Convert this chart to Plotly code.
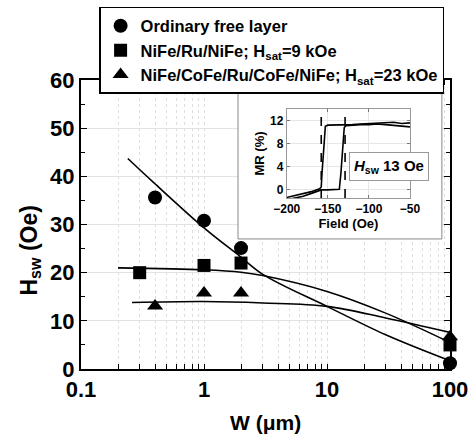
import plotly.graph_objects as go

# ---- main data (W in um, Hsw in Oe) ----
W_circle = [0.4, 1, 2, 100]
H_circle = [35.6, 30.8, 25.1, 1.2]
W_square = [0.3, 1, 2, 100]
H_square = [20.0, 21.5, 22.0, 5.0]
W_tri = [0.4, 1, 2, 100]
H_tri = [13.1, 15.8, 15.8, 6.7]

# fitted curves
fit_circle_W = [0.24, 0.39, 1, 1.96, 3.03, 10, 30, 100]
fit_circle_H = [43.7, 38.7, 29.3, 23.4, 19.6, 13.0, 7.1, 1.7]
fit_square_W = [0.2, 1, 2, 3, 10, 30, 100]
fit_square_H = [21.0, 20.6, 20.1, 19.4, 16.1, 11.6, 5.5]
fit_tri_W = [0.26, 1, 3, 10, 30, 100]
fit_tri_H = [13.8, 14.0, 13.7, 13.0, 10.6, 7.6]

x_tickvals = [0.1, 0.2, 0.3, 0.4, 0.5, 0.6, 0.7, 0.8, 0.9,
              1, 2, 3, 4, 5, 6, 7, 8, 9,
              10, 20, 30, 40, 50, 60, 70, 80, 90, 100]
x_ticklabels = {0.1: "0.1", 1: "1", 10: "10", 100: "100"}

# ---- inset data (MR loop) ----
loopA_field = [-200, -190, -180, -170, -160, -158, -157, -155, -153, -150,
               -140, -130, -120, -110, -100, -90, -80, -70, -60, -50]
loopA_mr = [-1.3, -1.0, -0.7, -0.3, 0.2, 0.5, 3.0, 8.0, 11.0, 11.2,
            11.2, 11.3, 11.3, 11.4, 11.5, 11.6, 11.6, 11.7, 11.5, 11.6]
loopB_field = [-200, -190, -180, -170, -160, -158, -150, -140, -136, -134,
               -132, -130, -128, -120, -110, -100, -90, -80, -70, -60, -50]
loopB_mr = [-1.7, -1.4, -1.1, -0.6, -0.2, 0.0, 0.0, 0.0, 0.1, 3.0,
            8.0, 10.8, 11.1, 11.2, 11.3, 11.3, 11.4, 11.3, 11.2, 11.0, 10.9]
hsw_fields = [-158, -129]

FONT = "Liberation Sans, Arial, sans-serif"
XRANGE_LOG = [-1, 2]
YRANGE = [0, 60]


def frac_to_x(f):
    return 10 ** (XRANGE_LOG[0] + f * (XRANGE_LOG[1] - XRANGE_LOG[0]))


def frac_to_y(f):
    return YRANGE[0] + f * (YRANGE[1] - YRANGE[0])


fig = go.Figure()

msize = 14
for fw, fh in [(fit_circle_W, fit_circle_H), (fit_square_W, fit_square_H), (fit_tri_W, fit_tri_H)]:
    fig.add_trace(go.Scatter(x=fw, y=fh, mode="lines",
                             line=dict(color="black", width=1.6, shape="spline"), showlegend=False))

fig.add_trace(go.Scatter(x=W_circle, y=H_circle, mode="markers", name="Ordinary free layer",
                         marker=dict(symbol="circle", size=msize, color="black"), cliponaxis=False))
fig.add_trace(go.Scatter(x=W_square, y=H_square, mode="markers", name="NiFe/Ru/NiFe; H<sub>sat</sub>=9 kOe",
                         marker=dict(symbol="square", size=msize - 1, color="black"), cliponaxis=False))
fig.add_trace(go.Scatter(x=W_tri, y=H_tri, mode="markers", name="NiFe/CoFe/Ru/CoFe/NiFe; H<sub>sat</sub>=23 kOe",
                         marker=dict(symbol="triangle-up", size=msize, color="black"), cliponaxis=False))

# inset traces
fig.add_trace(go.Scatter(x=loopA_field, y=loopA_mr, mode="lines", line=dict(color="black", width=1.6),
                         xaxis="x2", yaxis="y2", showlegend=False))
fig.add_trace(go.Scatter(x=loopB_field, y=loopB_mr, mode="lines", line=dict(color="black", width=1.6),
                         xaxis="x2", yaxis="y2", showlegend=False))

shapes = [
    dict(type="rect", xref="x", yref="y",
         x0=frac_to_x(0.4255), x1=frac_to_x(0.978), y0=frac_to_y(0.45), y1=frac_to_y(0.969),
         line=dict(color="#888888", width=1), fillcolor="white", layer="between"),
]
for f in hsw_fields:
    shapes.append(dict(type="line", xref="x2", yref="y2 domain", x0=f, x1=f, y0=0, y1=1,
                       line=dict(color="black", width=1.6, dash="dash"), layer="above"))

fig.update_layout(
    width=469, height=440,
    margin=dict(l=81, r=19, t=80, b=71, autoexpand=False),
    paper_bgcolor="white", plot_bgcolor="white",
    font=dict(family=FONT, color="black", weight="bold"),
    shapes=shapes,
    xaxis=dict(type="log", range=XRANGE_LOG, tickvals=x_tickvals,
               ticktext=[x_ticklabels.get(v, "") for v in x_tickvals],
               ticks="inside", ticklen=5, tickwidth=1.2, tickcolor="black",
               showline=True, linecolor="black", linewidth=2, mirror="allticks",
               showgrid=True, gridcolor="#dedede", griddash="dot", gridwidth=1,
               tickfont=dict(size=22, family=FONT, weight="bold"), zeroline=False),
    yaxis=dict(range=YRANGE, dtick=10, ticks="inside", ticklen=6, tickwidth=1.2, tickcolor="black",
               minor=dict(dtick=5, ticks="inside", ticklen=4, tickcolor="black", showgrid=False),
               showline=True, linecolor="black", linewidth=2, mirror="allticks",
               showgrid=True, gridcolor="#dde3e6", gridwidth=1,
               tickfont=dict(size=22, family=FONT, weight="bold"), zeroline=False),
    xaxis2=dict(domain=[0.5575, 0.8916], anchor="y2", range=[-200, -50], dtick=50,
                ticks="inside", ticklen=3, tickcolor="#777", showline=True, linecolor="#999",
                linewidth=1, mirror="allticks", showgrid=True, gridcolor="#e6e6e6", zeroline=False,
                tickfont=dict(size=12, family=FONT, weight="bold"),
                title=dict(text="Field (Oe)", font=dict(size=13, family=FONT, weight="bold"), standoff=2)),
    yaxis2=dict(domain=[0.5917, 0.8997], anchor="x2", range=[-1.4, 14], tickvals=[0, 4, 8, 12],
                ticks="inside", ticklen=3, tickcolor="#777", showline=True, linecolor="#999",
                linewidth=1, mirror="allticks", showgrid=True, gridcolor="#e6e6e6", zeroline=False,
                tickfont=dict(size=12, family=FONT, weight="bold"),
                title=dict(text="MR (%)", font=dict(size=13, family=FONT, weight="bold"), standoff=2)),
    legend=dict(x=0.984, xanchor="right", y=1.2526, yanchor="top",
                bgcolor="white", bordercolor="black", borderwidth=1.5,
                font=dict(size=16.5, family=FONT, weight="bold"), itemwidth=30,
                tracegroupgap=0),
    annotations=[
        dict(text="H<sub>sw</sub> (Oe)", textangle=-90, xref="paper", yref="paper",
             x=-0.138, y=0.41, xanchor="center", yanchor="middle", showarrow=False,
             font=dict(size=23, family=FONT, weight="bold")),
        dict(text="W (\u03bcm)", xref="paper", yref="paper", x=0.5, y=-0.185,
             xanchor="center", yanchor="middle", showarrow=False,
             font=dict(size=21, family=FONT, weight="bold")),
        dict(text="<i>H</i><sub>sw</sub> 13 Oe", xref="paper", yref="paper", x=0.836, y=0.701,
             xanchor="center", yanchor="middle",
             showarrow=False, bgcolor="white", bordercolor="#999", borderwidth=1, borderpad=4,
             font=dict(size=15, family=FONT, weight="bold")),
    ],
)

fig.write_html("out.html", config={"displayModeBar": False},
               post_script="document.body.style.margin='0';")
